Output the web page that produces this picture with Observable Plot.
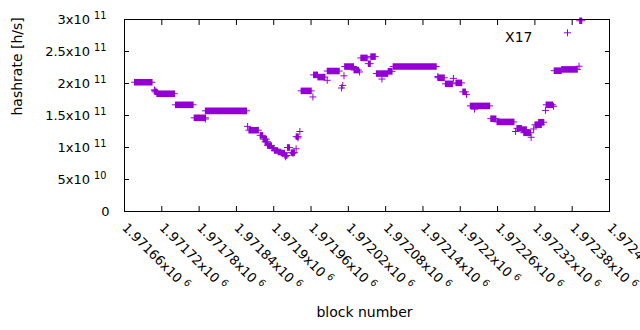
<!DOCTYPE html>
<html><head><meta charset="utf-8">
<script src="https://cdn.jsdelivr.net/npm/d3@7"></script>
<script src="https://cdn.jsdelivr.net/npm/@observablehq/plot@0.6"></script>
<style>
body{margin:0;background:#fff;}
#chart svg{display:block;}
</style></head><body><div id="chart"></div>
<script>
// Runs of consecutive blocks sharing one hashrate estimate (block from, block to, hashrate h/s)
const runStart = [1971677,1971710,1971713,1971743,1971773,1971791,1971861,1971879,1971884,1971887,1971891,1971898,1971902,1971908,1971913,1971919,1971923,1971929,1971937,1971945,1971965,1971972,1971987,1972015,1972030,1972041,1972053,1972057,1972066,1972085,1972093,1972165,1972177,1972194,1972205,1972217,1972250,1972260,1972292,1972300,1972303,1972321,1972327,1972339,1972352,1972364,1972393];
const runEnd   = [1971705,1971713,1971741,1971771,1971791,1971857,1971876,1971883,1971889,1971891,1971897,1971901,1971907,1971912,1971918,1971922,1971926,1971934,1971940,1971961,1971971,1971983,1972006,1972029,1972037,1972051,1972056,1972064,1972084,1972091,1972162,1972175,1972188,1972203,1972209,1972248,1972258,1972287,1972299,1972307,1972314,1972331,1972335,1972349,1972363,1972389,1972396];
const runValue = [2.02e11,1.87e11,1.84e11,1.667e11,1.464e11,1.573e11,1.27e11,1.19e11,1.13e11,1.09e11,1.03e11,0.99e11,0.953e11,0.93e11,0.914e11,0.875e11,1.0e11,0.92e11,1.17e11,1.885e11,2.135e11,2.10e11,2.195e11,2.265e11,2.21e11,2.40e11,2.31e11,2.42e11,2.155e11,2.19e11,2.265e11,2.09e11,1.995e11,2.01e11,1.87e11,1.65e11,1.45e11,1.40e11,1.30e11,1.28e11,1.23e11,1.355e11,1.395e11,1.667e11,2.20e11,2.22e11,2.98e11];
// Single blocks
const pointBlock = [1971708,1971709,1971790,1971858,1971919,1971931,1971936,1971939,1971942,1971963,1971986,1972009,1972011,1972013,1972038,1972074,1972164,1972189,1972210,1972223,1972289,1972314,1972318,1972337,1972350,1972391];
const pointValue = [1.90e11,1.89e11,1.445e11,1.33e11,0.855e11,0.91e11,0.98e11,1.15e11,1.25e11,1.79e11,2.05e11,1.93e11,1.97e11,2.12e11,2.18e11,2.07e11,2.11e11,2.08e11,1.83e11,1.60e11,1.25e11,1.16e11,1.29e11,1.58e11,1.645e11,2.27e11];

const xTicks = [1971660,1971720,1971780,1971840,1971900,1971960,1972020,1972080,1972140,1972200,1972260,1972320,1972380,1972440];
const xTickMantissa = ["1.97166","1.97172","1.97178","1.97184","1.9719","1.97196","1.97202","1.97208","1.97214","1.9722","1.97226","1.97232","1.97238","1.97244"];
const xTickExponent = ["6","6","6","6","6","6","6","6","6","6","6","6","6","6"];
const yTicks = [0,5e10,1e11,1.5e11,2e11,2.5e11,3e11];
const yTickMantissa = ["0","5","1","1.5","2","2.5","3"];
const yTickExponent = ["","10","11","11","11","11","11"];
const seriesName = "X17";
const xTitle = "block number";
const yTitle = "hashrate [h/s]";

const color = "#9400d3";
const FONT = "'DejaVu Sans', Verdana, sans-serif";
const runs = runStart.map((s, i) => ({x1: s, x2: runEnd[i], y: runValue[i]}));
const pts = pointBlock.map((b, i) => ({x: b, y: pointValue[i]}));
const xLab = new Map(xTicks.map((t, i) => [t, xTickMantissa[i] + "x10" + (xTickExponent[i] ? "^" + xTickExponent[i] : "")]));
const yLab = new Map(yTicks.map((t, i) => [t, yTickMantissa[i] === "0" ? "0" : yTickMantissa[i] + "x10^" + yTickExponent[i]]));

const plus = {draw(ctx, size) {const r = Math.sqrt(size / Math.PI); ctx.moveTo(-r, 0); ctx.lineTo(r, 0); ctx.moveTo(0, -r); ctx.lineTo(0, r);}};

const chart = Plot.plot({
  width: 640, height: 330,
  marginLeft: 124, marginRight: 31, marginTop: 19, marginBottom: 119,
  x: {domain: [1971660, 1972440], label: null},
  y: {domain: [0, 3e11], label: null},
  style: {fontFamily: FONT, fontSize: "13px", color: "#000", background: "#fff", overflow: "visible"},
  marks: [
    Plot.ruleY(runs, {x1: "x1", x2: "x2", y: "y", stroke: color, strokeWidth: 1, insetLeft: -3.5, insetRight: -3.5}),
    Plot.ruleY(runs, {x1: "x1", x2: "x2", y: "y", stroke: color, strokeWidth: 6.6, insetLeft: -0.6, insetRight: -0.6}),
    Plot.dot(pts, {x: "x", y: "y", symbol: plus, r: 3.5, stroke: color, fill: "none", strokeWidth: 1}),
    Plot.axisX(xTicks, {anchor: "bottom", tickSize: -5, tickFormat: () => "", label: null}),
    Plot.axisX(xTicks, {anchor: "top", tickSize: -5, tickFormat: () => "", label: null}),
    Plot.axisY(yTicks, {anchor: "left", tickSize: -5, tickFormat: () => "", label: null}),
    Plot.axisY(yTicks, {anchor: "right", tickSize: -5, tickFormat: () => "", label: null}),
    Plot.axisX(xTicks, {anchor: "bottom", tickSize: 0, tickPadding: 14, tickRotate: 45, tickFormat: d => xLab.get(d), label: null, fontSize: 13}),
    Plot.axisY(yTicks, {anchor: "left", tickSize: 0, tickPadding: 15, tickFormat: d => yLab.get(d), label: null, fontSize: 13}),
    Plot.frame({stroke: "#000", strokeWidth: 1}),
    Plot.text([yTitle], {frameAnchor: "left", dx: -106.5, rotate: -90, fontSize: 14, fill: "#000"}),
    Plot.text([xTitle], {frameAnchor: "bottom", dx: -2.5, dy: 105, fontSize: 14, fill: "#000"}),
    Plot.text([seriesName], {frameAnchor: "top-right", dx: -77, dy: 12.7, textAnchor: "end", fontSize: 14, fill: "#000"}),
    Plot.dot([seriesName], {frameAnchor: "top-right", dx: -42, dy: 13.3, symbol: plus, r: 3.5, stroke: color, fill: "none", strokeWidth: 1})
  ]
});

// gnuplot-style superscript exponents on tick labels
function superscript(sel, shift, gap) {
  chart.querySelectorAll(sel).forEach(el => {
    const s = el.textContent;
    if (!s.includes("^")) return;
    const [m, e] = s.split("^");
    el.textContent = "";
    const t1 = document.createElementNS("http://www.w3.org/2000/svg", "tspan");
    t1.textContent = m;
    const t2 = document.createElementNS("http://www.w3.org/2000/svg", "tspan");
    t2.textContent = e;
    t2.setAttribute("dx", gap);
    t2.setAttribute("dy", "-0.5em");
    t2.setAttribute("font-size", "0.75em");
    el.appendChild(t1); el.appendChild(t2);
    if (shift) {
      const tr = el.getAttribute("transform") || "";
      el.setAttribute("transform", tr + " translate(" + shift + ",0)");
    }
  });
}
superscript('[aria-label="x-axis tick label"] text', 0, "4");
superscript('[aria-label="y-axis tick label"] text', -3, "4");

document.getElementById("chart").appendChild(chart);
</script></body></html>
